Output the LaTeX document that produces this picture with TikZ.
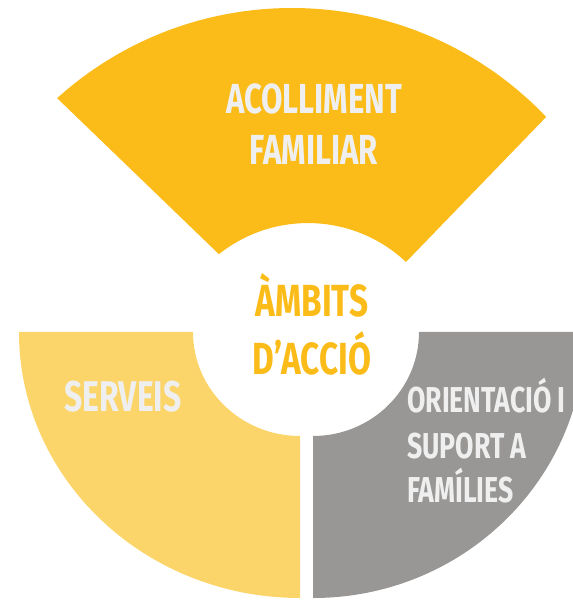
\documentclass[tikz,border=0pt]{standalone}
\usepackage{fontspec}
\newfontfamily\ambitsfont{Fira Sans}[FakeStretch=0.74]
\definecolor{acollyellow}{RGB}{251,188,25}
\definecolor{serveisyellow}{RGB}{252,213,106}
\definecolor{suportgray}{RGB}{152,151,149}
\definecolor{labelwhite}{RGB}{239,239,239}

\begin{document}
\begin{tikzpicture}[x=1pt, y=1pt,
		sector label/.style={font=\ambitsfont\bfseries\fontsize{#1}{#1}\selectfont, text=labelwhite, inner sep=0pt, anchor=base},
		centre label/.style={font=\ambitsfont\bfseries\fontsize{45}{45}\selectfont, text=acollyellow, inner sep=0pt, anchor=base}]
		% page
		\clip (0, 0) rectangle (573, 600);
		
		% upper sector
		\fill[acollyellow] (292, 241) ++(132:351) arc [start angle=132, end angle=43.6, radius=351]
							-- (406, 338) arc [start angle=46.7, end angle=128.5, radius=143] -- cycle;
		\node[sector label=42] (acoll) at (314, 486) {ACOLLIMENT};
		\node[sector label=42] (famil) at (314, 435) {FAMILIAR};
		
		% lower left sector
		\fill[serveisyellow] (19, 268) -- (193, 268) arc [start angle=180, end angle=270, x radius=107, y radius=104]
							 -- (300, 2) arc [start angle=270, end angle=180, x radius=281, y radius=266] -- cycle;
		\node[sector label=43] (serveis) at (123, 188) {SERVEIS};
		
		% lower right sector
		\fill[suportgray] (419, 268) arc [start angle=0, end angle=-90, x radius=106, y radius=104]
						  -- (313, 2) arc [start angle=-90, end angle=0, x radius=272, y radius=266] -- cycle;
		\node[sector label=36, anchor=base west] (orient) at (407, 187) {ORIENTACIÓ I};
		\node[sector label=36, anchor=base west] (suport) at (407, 141) {SUPORT A};
		\node[sector label=36, anchor=base west] (famil2) at (407, 97) {FAMÍLIES};
		
		% centre
		\node[centre label] (ambits) at (312, 283) {ÀMBITS};
		\node[centre label] (accio) at (312, 225) {D’ACCIÓ};
		
	\end{tikzpicture}
\end{document}
